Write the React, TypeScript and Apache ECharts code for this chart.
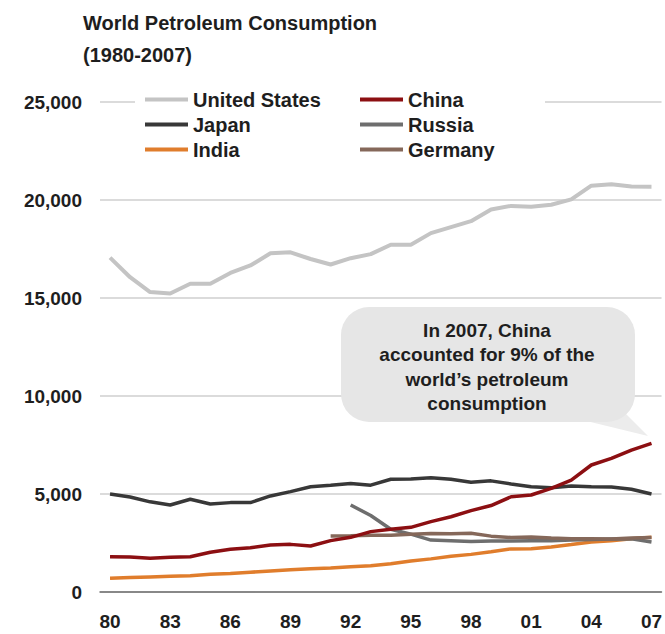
import React, { useEffect, useRef } from "react";
import * as echarts from "echarts";

const years = ["80","81","82","83","84","85","86","87","88","89","90","91","92","93","94","95","96","97","98","99","00","01","02","03","04","05","06","07"];

const unitedStates = [17060,16060,15300,15230,15730,15730,16280,16660,17280,17330,16990,16710,17030,17240,17720,17720,18310,18620,18920,19520,19700,19650,19760,20030,20730,20800,20690,20680];
const japan = [5000,4850,4600,4440,4730,4490,4560,4560,4900,5120,5370,5450,5540,5450,5750,5770,5830,5750,5600,5670,5510,5370,5320,5410,5370,5360,5240,5000];
const china = [1800,1790,1720,1770,1800,2030,2180,2260,2400,2430,2350,2620,2790,3080,3200,3300,3590,3840,4150,4410,4860,4950,5290,5710,6480,6820,7240,7580];
const india = [700,740,770,800,830,900,950,1010,1070,1130,1190,1230,1290,1340,1440,1580,1690,1820,1920,2050,2200,2210,2300,2420,2550,2620,2720,2800];
const russia = [null,null,null,null,null,null,null,null,null,null,null,null,4440,3900,3200,2950,2650,2620,2580,2600,2600,2620,2620,2650,2680,2700,2720,2550];
const germany = [null,null,null,null,null,null,null,null,null,null,null,2860,2870,2900,2900,2950,2980,2970,3000,2850,2780,2800,2750,2720,2720,2700,2750,2780];

const yTicks = { min: 0, max: 25000, interval: 5000 };
const titleText = "World Petroleum Consumption\n(1980-2007)";
const calloutText = "In 2007, China\naccounted for 9% of the\nworld\u2019s petroleum\nconsumption";

const FONT = '"Liberation Sans", Arial, sans-serif';

export default function App() {
  const ref = useRef<HTMLDivElement>(null);
  useEffect(() => {
    if (!ref.current) return;
    const chart = echarts.init(ref.current, null, { renderer: "svg" });
    const mk = (name: string, data: (number | null)[], color: string, width: number) => ({
      name,
      type: "line",
      data,
      symbol: "none",
      connectNulls: false,
      lineStyle: { color, width },
      itemStyle: { color },
      z: 3,
    });
    const legendBase = {
      orient: "vertical",
      top: 89,
      icon: "rect",
      itemWidth: 43,
      itemHeight: 4,
      itemGap: 4,
      textStyle: { fontFamily: FONT, fontSize: 20, fontWeight: "bold", color: "#1e1e1e", lineHeight: 21 },
      padding: 0,
      selectedMode: false,
    };
    chart.setOption({
      animation: false,
      backgroundColor: "#ffffff",
      textStyle: { fontFamily: FONT },
      title: {
        text: titleText,
        left: 78,
        top: 2,
        textStyle: { fontFamily: FONT, fontSize: 20, fontWeight: "bold", color: "#1e1e1e", lineHeight: 32 },
      },
      legend: [
        { ...legendBase, data: ["United States", "Japan", "India"], left: 145 },
        { ...legendBase, data: ["China", "Russia", "Germany"], left: 360 },
      ],
      grid: { left: 100, right: 0, top: 102, bottom: 42, containLabel: false },
      xAxis: {
        type: "category",
        data: years,
        boundaryGap: true,
        axisLine: { show: true, lineStyle: { color: "#6e6e6e", width: 1.5 } },
        axisTick: { show: false },
        axisLabel: {
          interval: 2,
          margin: 20,
          fontFamily: FONT,
          fontSize: 19,
          fontWeight: "bold",
          color: "#1e1e1e",
        },
        splitLine: { show: false },
      },
      yAxis: {
        type: "value",
        min: yTicks.min,
        max: yTicks.max,
        interval: yTicks.interval,
        axisLine: { show: false },
        axisTick: { show: false },
        axisLabel: {
          margin: 18,
          fontFamily: FONT,
          fontSize: 19,
          fontWeight: "bold",
          color: "#1e1e1e",
          formatter: (v: number) => v.toLocaleString("en-US"),
        },
        splitLine: { show: true, lineStyle: { color: "#cfcfcf", width: 1.5 } },
      },
      series: [
        mk("United States", unitedStates, "#c4c4c4", 4),
        mk("Japan", japan, "#383838", 3.5),
        mk("India", india, "#e07d2c", 3.5),
        mk("Russia", russia, "#6e6e6e", 3.5),
        mk("Germany", germany, "#85685a", 3.5),
        mk("China", china, "#8c0f12", 3.5),
      ],
      graphic: [
        {
          type: "rect",
          z: 1,
          shape: { x: 135, y: 86, width: 410, height: 76 },
          style: { fill: "#ffffff" },
          silent: true,
        },
        {
          type: "polygon",
          z: 1,
          shape: { points: [[570, 417], [622, 410], [648, 436]] },
          style: { fill: "#ececec" },
          silent: true,
        },
        {
          type: "rect",
          z: 1,
          shape: { x: 341, y: 307, width: 294, height: 115, r: 28 },
          style: { fill: "#e6e6e6" },
          silent: true,
        },
        {
          type: "text",
          z: 5,
          x: 487,
          y: 367,
          style: {
            text: calloutText,
            fontFamily: FONT,
            fontSize: 19,
            fontWeight: "bold",
            fill: "#1e1e1e",
            align: "center",
            verticalAlign: "middle",
            lineHeight: 24.5,
          },
          silent: true,
        },
      ],
    });
    return () => chart.dispose();
  }, []);
  return <div ref={ref} style={{ position: "fixed", left: 0, top: 0, width: 665, height: 634 }} />;
}
